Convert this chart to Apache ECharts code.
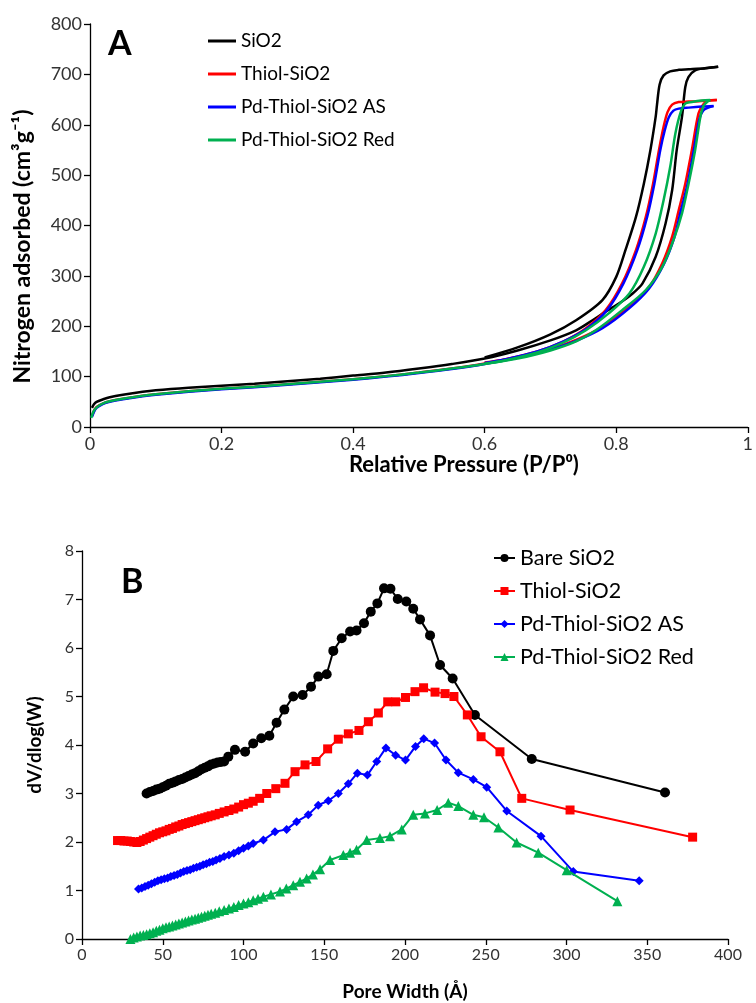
<!DOCTYPE html>
<html><head><meta charset="utf-8">
<script src="https://cdn.jsdelivr.net/npm/echarts@6/dist/echarts.min.js"></script>
<style>html,body{margin:0;padding:0;background:#fff}#c{width:756px;height:1003px}</style>
</head><body><div id="c"></div>
<script>
// ---------- Panel A: N2 isotherms [P/P0, V] ----------
const sio2Ads = [[0.003,38],[0.006,45],[0.01,50],[0.02,55],[0.03,59],[0.05,64],[0.08,70],[0.1,73],[0.15,78],[0.2,82],[0.25,86],[0.3,91],[0.35,96],[0.4,102],[0.45,108],[0.5,116],[0.55,125],[0.6,136],[0.65,152],[0.7,172],[0.739,192],[0.764,212],[0.785,230],[0.804,245],[0.825,265],[0.84,285],[0.86,338],[0.875,404],[0.885,470],[0.892,550],[0.9,616],[0.905,675],[0.91,695],[0.92,708],[0.935,712],[0.955,715]];
const sio2Des = [[0.955,715],[0.935,712],[0.91,710],[0.895,709],[0.882,706],[0.872,698],[0.866,680],[0.862,640],[0.86,616],[0.852,550],[0.842,483],[0.83,417],[0.814,351],[0.8,298],[0.779,252],[0.739,212],[0.7,184],[0.65,158],[0.6,138]];
const thiolAds = [[0.003,22],[0.006,32],[0.01,40],[0.02,47],[0.03,51],[0.05,56],[0.08,62],[0.1,65],[0.15,71],[0.2,76],[0.25,80],[0.3,85],[0.35,90],[0.4,95],[0.45,101],[0.5,108],[0.55,116],[0.6,126],[0.65,139],[0.7,155],[0.739,173],[0.779,199],[0.82,239],[0.85,278],[0.87,325],[0.885,378],[0.895,430],[0.905,483],[0.915,550],[0.925,622],[0.932,640],[0.938,647],[0.953,649]];
const thiolDes = [[0.953,649],[0.93,647],[0.91,646],[0.895,645],[0.885,640],[0.878,625],[0.872,596],[0.865,550],[0.856,483],[0.845,417],[0.83,351],[0.809,285],[0.784,232],[0.754,196],[0.72,170],[0.68,150],[0.63,134],[0.6,128]];
const pdAsAds = [[0.003,20],[0.006,30],[0.01,38],[0.02,46],[0.03,50],[0.05,55],[0.08,61],[0.1,64],[0.15,70],[0.2,75],[0.25,79],[0.3,84],[0.35,89],[0.4,94],[0.45,100],[0.5,107],[0.55,115],[0.6,125],[0.65,138],[0.7,154],[0.739,171],[0.779,196],[0.82,236],[0.85,275],[0.872,322],[0.888,375],[0.898,428],[0.908,480],[0.918,550],[0.926,610],[0.932,628],[0.94,634],[0.948,637]];
const pdAsDes = [[0.948,637],[0.93,636],[0.91,634],[0.895,632],[0.887,628],[0.88,615],[0.874,590],[0.867,550],[0.858,483],[0.847,417],[0.832,351],[0.811,285],[0.786,232],[0.756,196],[0.72,170],[0.68,150],[0.63,134],[0.6,127]];
const pdRedAds = [[0.002,18],[0.005,30],[0.01,39],[0.02,47],[0.03,51],[0.05,56],[0.08,62],[0.1,65],[0.15,71],[0.2,76],[0.25,80],[0.3,85],[0.35,90],[0.4,95],[0.45,101],[0.5,108],[0.55,116],[0.6,125],[0.65,136],[0.7,152],[0.739,170],[0.769,192],[0.809,232],[0.845,272],[0.87,318],[0.887,371],[0.9,424],[0.91,483],[0.92,550],[0.928,616],[0.933,638],[0.94,647],[0.943,649]];
const pdRedDes = [[0.943,649],[0.93,648],[0.915,645],[0.905,642],[0.898,625],[0.89,583],[0.882,516],[0.872,450],[0.86,384],[0.842,318],[0.82,265],[0.789,226],[0.754,192],[0.72,168],[0.68,148],[0.63,132],[0.6,126]];

// ---------- Panel B: pore size distributions [W (Å), dV/dlog(W)] ----------
const bareSiO2 = [[40,3.0],[42,3.03],[44,3.05],[46,3.08],[48,3.1],[50,3.13],[52,3.16],[54,3.2],[56,3.22],[58,3.25],[60,3.28],[62,3.3],[64,3.33],[66,3.36],[68,3.39],[70,3.42],[72,3.46],[74,3.5],[76,3.53],[78,3.56],[80,3.6],[82,3.62],[84,3.64],[86,3.65],[88,3.66],[90.6,3.76],[94.7,3.9],[101,3.86],[106,4.03],[111,4.14],[116,4.19],[120.5,4.46],[125.3,4.73],[130.8,5.0],[136.6,5.03],[141.8,5.2],[146.3,5.41],[151.5,5.46],[155.6,5.94],[160.8,6.2],[166,6.34],[170,6.36],[174.6,6.51],[178.8,6.75],[182.9,6.92],[187,7.23],[191,7.22],[195.5,7.01],[200.8,6.96],[205.1,6.81],[209.3,6.59],[215.5,6.26],[221.7,5.65],[229.5,5.37],[243.3,4.62],[278.5,3.71],[361,3.02]];
const thiolPSD = [[22,2.03],[24,2.03],[26,2.02],[28,2.02],[30,2.01],[32,2.0],[34,1.99],[36,2.01],[38,2.04],[40,2.07],[42,2.1],[44,2.13],[46,2.16],[48,2.19],[50,2.21],[52,2.23],[54,2.26],[56,2.28],[58,2.31],[60,2.33],[62,2.36],[64,2.38],[66,2.4],[68,2.42],[70,2.44],[72,2.46],[74,2.48],[76,2.5],[78,2.52],[80,2.54],[82.5,2.56],[85,2.59],[88,2.62],[91,2.65],[94,2.68],[97,2.72],[100,2.77],[103,2.8],[106,2.84],[110,2.9],[114.4,3.0],[120,3.1],[125.7,3.21],[131.9,3.45],[138.1,3.59],[144.9,3.66],[152.1,3.92],[158.7,4.12],[164.9,4.23],[171.5,4.3],[177.3,4.48],[183.5,4.66],[189.3,4.89],[194.3,4.89],[200.3,4.98],[206.2,5.1],[211.5,5.18],[218.6,5.09],[224.8,5.06],[230.3,5.0],[238.6,4.62],[247.1,4.17],[258.8,3.86],[272.3,2.9],[302.2,2.66],[378.1,2.1]];
const pdAsPSD = [[35,1.03],[37,1.05],[39,1.08],[41,1.11],[43,1.14],[45,1.17],[47,1.2],[49,1.22],[51,1.24],[53,1.26],[55,1.29],[57,1.31],[59,1.33],[61,1.36],[63,1.39],[65,1.41],[67,1.43],[69,1.46],[71,1.48],[73,1.5],[75,1.53],[77,1.55],[79,1.58],[81,1.6],[83,1.63],[85.4,1.66],[88,1.7],[91,1.73],[94,1.77],[97,1.82],[100,1.87],[103,1.92],[106,1.97],[112.3,2.04],[119.5,2.21],[126.7,2.26],[132.9,2.42],[140.1,2.56],[146.3,2.76],[152.5,2.85],[158.7,3.0],[164.9,3.2],[170.5,3.42],[176.7,3.38],[182.5,3.66],[188.2,3.94],[194.2,3.79],[200.3,3.69],[206.5,3.97],[211.6,4.13],[218.3,4.04],[225.4,3.69],[233,3.43],[242.3,3.29],[250.6,3.13],[263,2.64],[284.2,2.12],[304.2,1.39],[345,1.2]];
const pdRedPSD = [[30,0.0],[32,0.03],[34,0.05],[36,0.07],[38,0.08],[40,0.1],[42,0.12],[44,0.14],[46,0.17],[48,0.19],[50,0.22],[52,0.24],[54,0.26],[56,0.28],[58,0.3],[60,0.32],[62,0.34],[64,0.36],[66,0.38],[68,0.4],[70,0.42],[72,0.44],[74,0.46],[76,0.48],[78,0.5],[80,0.52],[82.5,0.54],[85,0.57],[88,0.6],[91,0.63],[94,0.66],[97,0.7],[100,0.73],[103,0.76],[106,0.8],[109,0.83],[112.3,0.87],[117,0.92],[122.6,0.98],[126.5,1.04],[130.8,1.11],[135,1.18],[139.1,1.25],[143,1.33],[147.4,1.44],[153.6,1.63],[161.8,1.73],[166,1.78],[170,1.84],[176.3,2.04],[184.5,2.08],[190.7,2.12],[198,2.26],[205.1,2.56],[212.4,2.59],[219.9,2.66],[226.8,2.81],[233,2.74],[242.3,2.56],[248.9,2.51],[257.8,2.3],[269.1,1.99],[282.5,1.78],[300.1,1.42],[331.5,0.78]];

const namesA = ['SiO2','Thiol-SiO2','Pd-Thiol-SiO2 AS','Pd-Thiol-SiO2 Red'];
const namesB = ['Bare SiO2','Thiol-SiO2 ','Pd-Thiol-SiO2 AS ','Pd-Thiol-SiO2 Red '];
const colors = ['#000000','#ff0000','#0000ff','#00b050'];

const FONT = 'Lato';
const isoSets = [[sio2Ads,sio2Des],[thiolAds,thiolDes],[pdAsAds,pdAsDes],[pdRedAds,pdRedDes]];
const psdSets = [bareSiO2,thiolPSD,pdAsPSD,pdRedPSD];
const psdSymbols = [['circle',10],['rect',9],['diamond',9],['triangle',10]];

const series = [];
isoSets.forEach((pair,i)=>{
  pair.forEach(d=>{
    series.push({type:'line',name:namesA[i],xAxisIndex:0,yAxisIndex:0,data:d,symbol:'none',smooth:0.3,
      lineStyle:{color:colors[i],width:2.5},itemStyle:{color:colors[i]},z:2+i});
  });
});
psdSets.forEach((d,i)=>{
  series.push({type:'line',name:namesB[i],xAxisIndex:1,yAxisIndex:1,data:d,
    symbol:psdSymbols[i][0],symbolSize:psdSymbols[i][1],showAllSymbol:true,
    lineStyle:{color:colors[i],width:2},itemStyle:{color:colors[i]},z:2+i});
});

function axis(extra, labelSize, nameStyle){
  return Object.assign({
    axisLine:{show:true,onZero:false,lineStyle:{color:'#000',width:1.3}},
    axisTick:{show:true,inside:false,length:6,lineStyle:{color:'#000',width:1.3}},
    axisLabel:{color:'#333',fontSize:labelSize,fontFamily:FONT},
    splitLine:{show:false},
    nameLocation:'middle',
    nameTextStyle:Object.assign({color:'#000',fontWeight:'bold',fontFamily:FONT},nameStyle)
  }, extra);
}

const option = {
  backgroundColor:'#fff',
  animation:false,
  grid:[
    {left:90,right:2,top:24,bottom:576,containLabel:false},
    {left:82,right:28,top:551,bottom:64,containLabel:false}
  ],
  xAxis:[
    axis({type:'value',gridIndex:0,min:0,max:1,interval:0.2,name:'Relative Pressure (P/P⁰)',nameGap:20},18,{fontSize:22,padding:[0,0,0,90]}),
    axis({type:'value',gridIndex:1,min:0,max:400,interval:50,name:'Pore Width (Å)',nameGap:43},16,{fontSize:19})
  ],
  yAxis:[
    axis({type:'value',gridIndex:0,min:0,max:800,interval:100,name:'Nitrogen adsorbed (cm³g⁻¹)',nameGap:56},18,{fontSize:23,padding:[0,42,0,0]}),
    axis({type:'value',gridIndex:1,min:0,max:8,interval:1,name:'dV/dlog(W)',nameGap:38},16,{fontSize:19})
  ],
  legend:[
    {data:namesA.map(n=>({name:n,icon:'rect'})),orient:'vertical',left:203,top:25,itemWidth:28,itemHeight:3,itemGap:11,
     textStyle:{fontSize:19,fontFamily:FONT,color:'#000',lineHeight:22},selectedMode:false},
    {data:namesB,orient:'vertical',left:488,top:541,itemWidth:21,itemHeight:10,itemGap:9,
     textStyle:{fontSize:21.5,fontFamily:FONT,color:'#000',lineHeight:24},selectedMode:false}
  ],
  graphic:[
    {type:'text',left:108,top:27,style:{text:'A',fontSize:34,fontWeight:'bold',fontFamily:FONT,fill:'#000'}},
    {type:'text',left:121,top:565,style:{text:'B',fontSize:34,fontWeight:'bold',fontFamily:FONT,fill:'#000'}}
  ],
  series:series
};
const chart = echarts.init(document.getElementById('c'),null,{renderer:'canvas'});
chart.setOption(option);
</script></body></html>
